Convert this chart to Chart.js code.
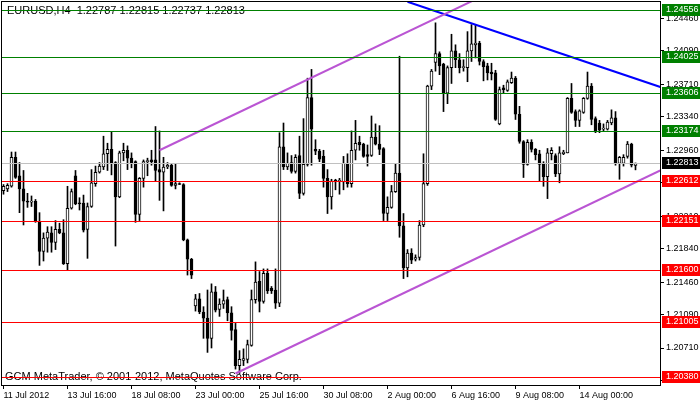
<!DOCTYPE html>
<html lang="en">

<head>
    <meta charset="UTF-8">
    <title>EURUSD H4</title>
    <style>
        body {
            margin: 0;
            background-color: #ffffff;
        }

        #priceChart {
            display: block;
        }
    </style>
</head>

<body>
    <canvas id="priceChart" width="700" height="402"></canvas>

    <script src="https://cdn.jsdelivr.net/npm/chart.js"></script>
    <script>
// EURUSD H4 bars, oldest first (bar 0 = 11 Jul 2012)
const opens = [
    1.2250, 1.2252, 1.2255, 1.2288, 1.2267, 1.2252, 1.2238, 1.2237, 1.2238, 1.2214,
    1.2181, 1.2196, 1.2202, 1.2191, 1.2206, 1.2202, 1.2167, 1.2230, 1.2267, 1.2236,
    1.2236, 1.2206, 1.2232, 1.2258, 1.2271, 1.2277, 1.2292, 1.2297, 1.2282, 1.2243,
    1.2293, 1.2296, 1.2287, 1.2283, 1.2223, 1.2264, 1.2283, 1.2285, 1.2285, 1.2274,
    1.2271, 1.2277, 1.2279, 1.2256, 1.2258, 1.2257, 1.2194, 1.2172, 1.2119, 1.2127,
    1.2112, 1.2105, 1.2082, 1.2135, 1.2115, 1.2121, 1.2126, 1.2111, 1.2092, 1.2051,
    1.2057, 1.2058, 1.2074, 1.2126, 1.2147, 1.2124, 1.2156, 1.2139, 1.2137, 1.2122,
    1.2300, 1.2277, 1.2282, 1.2272, 1.2290, 1.2247, 1.2280, 1.2356, 1.2297, 1.2295,
    1.2289, 1.2264, 1.2243, 1.2262, 1.2261, 1.2260, 1.2281, 1.2258, 1.2296, 1.2305,
    1.2303, 1.2291, 1.2290, 1.2311, 1.2303, 1.2298, 1.2224, 1.2231, 1.2249, 1.2270,
    1.2210, 1.2162, 1.2179, 1.2172, 1.2174, 1.2211, 1.2258, 1.2369, 1.2396, 1.2406,
    1.2394, 1.2361, 1.2390, 1.2409, 1.2399, 1.2390, 1.2390, 1.2409, 1.2416, 1.2418,
    1.2397, 1.2392, 1.2385, 1.2384, 1.2326, 1.2367, 1.2364, 1.2373, 1.2378, 1.2337,
    1.2306, 1.2280, 1.2305, 1.2297, 1.2292, 1.2280, 1.2266, 1.2292, 1.2290, 1.2269,
    1.2292, 1.2293, 1.2355, 1.2340, 1.2330, 1.2339, 1.2355, 1.2369, 1.2332, 1.2327,
    1.2320, 1.2320, 1.2327, 1.2333, 1.2281, 1.2281, 1.2289, 1.2303, 1.22787
];
const highs = [
    1.2257, 1.2258, 1.2294, 1.2294, 1.2282, 1.2273, 1.2247, 1.2244, 1.2240, 1.2225,
    1.2202, 1.2209, 1.2209, 1.2216, 1.2213, 1.2217, 1.2255, 1.2252, 1.2273, 1.2242,
    1.2245, 1.2236, 1.2274, 1.2278, 1.2282, 1.2312, 1.2304, 1.2317, 1.2283, 1.2295,
    1.2304, 1.2301, 1.2293, 1.2284, 1.2265, 1.2285, 1.2287, 1.2296, 1.2323, 1.2318,
    1.2288, 1.2282, 1.2280, 1.2281, 1.2259, 1.2258, 1.2195, 1.2173, 1.2132, 1.2133,
    1.2118, 1.2137, 1.2144, 1.2141, 1.2127, 1.2137, 1.2129, 1.2118, 1.2099, 1.2068,
    1.2070, 1.2080, 1.2137, 1.2169, 1.2158, 1.2161, 1.2161, 1.2141, 1.2161, 1.2316,
    1.2327, 1.2293, 1.2290, 1.2291, 1.2312, 1.2332, 1.2378, 1.2388, 1.2308, 1.2297,
    1.2296, 1.2274, 1.2263, 1.2263, 1.2264, 1.2289, 1.2292, 1.2318, 1.2330, 1.2312,
    1.2304, 1.2302, 1.2335, 1.2326, 1.2324, 1.2299, 1.2243, 1.2256, 1.2280, 1.2403,
    1.2224, 1.2183, 1.2184, 1.2177, 1.2216, 1.2292, 1.2370, 1.2388, 1.2441, 1.2408,
    1.2395, 1.2392, 1.2428, 1.2416, 1.2406, 1.2399, 1.2431, 1.2439, 1.2439, 1.2420,
    1.2399, 1.2395, 1.2395, 1.2387, 1.2368, 1.2370, 1.2376, 1.2385, 1.2380, 1.2346,
    1.2307, 1.2308, 1.2308, 1.2298, 1.2296, 1.2283, 1.2298, 1.2299, 1.2292, 1.2300,
    1.2296, 1.2356, 1.2372, 1.2342, 1.2342, 1.2356, 1.2385, 1.2372, 1.2334, 1.2330,
    1.2326, 1.2330, 1.2342, 1.2340, 1.2289, 1.2291, 1.2306, 1.2304, 1.22815
];
const lows = [
    1.2246, 1.2249, 1.2254, 1.2264, 1.2225, 1.2211, 1.2231, 1.2232, 1.2214, 1.2165,
    1.2170, 1.2180, 1.2180, 1.2183, 1.2201, 1.2166, 1.2160, 1.2229, 1.2234, 1.2228,
    1.2203, 1.2173, 1.2231, 1.2255, 1.2270, 1.2274, 1.2273, 1.2268, 1.2187, 1.2242,
    1.2284, 1.2274, 1.2276, 1.2214, 1.2216, 1.2254, 1.2267, 1.2279, 1.2261, 1.2239,
    1.2227, 1.2275, 1.2255, 1.2252, 1.2257, 1.2193, 1.2154, 1.2150, 1.2113, 1.2110,
    1.2082, 1.2066, 1.2071, 1.2112, 1.2107, 1.2116, 1.2102, 1.2080, 1.2047, 1.2042,
    1.2051, 1.2054, 1.2073, 1.2122, 1.2112, 1.2122, 1.2133, 1.2133, 1.2116, 1.2118,
    1.2274, 1.2274, 1.2270, 1.2270, 1.2241, 1.2245, 1.2278, 1.2279, 1.2291, 1.2283,
    1.2254, 1.2224, 1.2229, 1.2251, 1.2246, 1.2251, 1.2254, 1.2254, 1.2285, 1.2296,
    1.2288, 1.2278, 1.2289, 1.2302, 1.2291, 1.2216, 1.2216, 1.2230, 1.2248, 1.2197,
    1.2150, 1.2152, 1.2167, 1.2170, 1.2171, 1.2209, 1.2256, 1.2365, 1.2386, 1.2382,
    1.2340, 1.2349, 1.2372, 1.2390, 1.2384, 1.2386, 1.2374, 1.2397, 1.2401, 1.2393,
    1.2375, 1.2376, 1.2376, 1.2330, 1.2325, 1.2361, 1.2363, 1.2372, 1.2331, 1.2304,
    1.2265, 1.2279, 1.2294, 1.2285, 1.2261, 1.2255, 1.2241, 1.2285, 1.2266, 1.2259,
    1.2291, 1.2293, 1.2338, 1.2323, 1.2323, 1.2338, 1.2354, 1.2325, 1.2316, 1.2316,
    1.2318, 1.2319, 1.2325, 1.2279, 1.2263, 1.2278, 1.2287, 1.2277, 1.22737
];
const closes = [
    1.2255, 1.2256, 1.2288, 1.2265, 1.2252, 1.2238, 1.2237, 1.2238, 1.2215, 1.2181,
    1.2196, 1.2203, 1.2191, 1.2206, 1.2202, 1.2167, 1.2230, 1.2249, 1.2235, 1.2235,
    1.2205, 1.2232, 1.2259, 1.2271, 1.2278, 1.2292, 1.2297, 1.2282, 1.2243, 1.2293,
    1.2296, 1.2287, 1.2282, 1.2223, 1.2264, 1.2283, 1.2284, 1.2283, 1.2273, 1.2271,
    1.2277, 1.2279, 1.2256, 1.2258, 1.2257, 1.2194, 1.2172, 1.2154, 1.2127, 1.2112,
    1.2105, 1.2082, 1.2135, 1.2114, 1.2121, 1.2125, 1.2111, 1.2091, 1.2051, 1.2058,
    1.2059, 1.2075, 1.2126, 1.2146, 1.2124, 1.2156, 1.2136, 1.2136, 1.2122, 1.2300,
    1.2277, 1.2281, 1.2272, 1.2288, 1.2247, 1.2280, 1.2356, 1.2320, 1.2295, 1.2286,
    1.2264, 1.2243, 1.2261, 1.2260, 1.2262, 1.2281, 1.2258, 1.2296, 1.2304, 1.2302,
    1.2289, 1.2289, 1.2311, 1.2303, 1.2297, 1.2224, 1.2231, 1.2249, 1.2270, 1.2210,
    1.2162, 1.2179, 1.2171, 1.2174, 1.2211, 1.2258, 1.2369, 1.2386, 1.2406, 1.2392,
    1.2361, 1.2390, 1.2409, 1.2399, 1.2390, 1.2391, 1.2409, 1.2417, 1.2418, 1.2397,
    1.2391, 1.2384, 1.2383, 1.2331, 1.2365, 1.2365, 1.2374, 1.2378, 1.2337, 1.2306,
    1.2280, 1.2305, 1.2297, 1.2291, 1.2280, 1.2266, 1.2293, 1.2296, 1.2269, 1.2293,
    1.2294, 1.2355, 1.2339, 1.2330, 1.2341, 1.2355, 1.2369, 1.2331, 1.2317, 1.2319,
    1.2321, 1.2328, 1.2333, 1.2282, 1.2288, 1.2288, 1.2303, 1.2279, 1.22813
];

const dateLabels = ['11 Jul 2012', '13 Jul 16:00', '18 Jul 08:00', '23 Jul 00:00', '25 Jul 16:00',
    '30 Jul 08:00', '2 Aug 00:00', '6 Aug 16:00', '9 Aug 08:00', '14 Aug 00:00'];
const dateLabelBars = [0, 16, 32, 48, 64, 80, 96, 112, 128, 144];

const priceTicks = [1.2446, 1.2409, 1.2371, 1.2334, 1.2296, 1.2259, 1.2221, 1.2184, 1.2146, 1.2109, 1.2071, 1.2034];

// horizontal levels
const resistanceLevels = [1.24556, 1.24025, 1.23606, 1.23174];
const supportLevels = [1.22612, 1.22151, 1.21600, 1.21005, 1.20380];
const bidPrice = 1.22813;

// trend lines as [bar, price] anchors
const channelUpper = [[39, 1.2296], [120, 1.2472]];
const channelLower = [[58, 1.2042], [164.2, 1.2273]];
const downTrend = [[101, 1.2465], [164.2, 1.2368]];

const symbolTitle = 'EURUSD,H4';
const copyrightText = 'GCM MetaTrader, \u00a9 2001-2012, MetaQuotes Software Corp.';

const FAMILY = '"Liberation Sans", Arial, sans-serif';
const TEXT_FONT = '11px ' + FAMILY;
const TAG_FONT = '9px ' + FAMILY;

Chart.defaults.font.family = FAMILY;
Chart.defaults.font.size = 9;
Chart.defaults.color = '#000000';

const bodies = opens.map((o, i) => ({ x: i, y: [o, closes[i]] }));
const wicks = lows.map((l, i) => ({ x: i, y: [l, highs[i]] }));
const bodyColors = opens.map((o, i) => closes[i] >= o ? '#ffffff' : '#000000');
const toPoints = anchors => anchors.map(a => ({ x: a[0], y: a[1] }));

const terminalOverlay = {
    id: 'terminalOverlay',
    beforeDatasetsDraw(chart) {
        const { ctx, chartArea } = chart;
        const last = opens.length - 1;
        const ohlc = [opens[last], highs[last], lows[last], closes[last]].map(v => v.toFixed(5)).join(' ');
        ctx.save();
        ctx.font = TEXT_FONT;
        ctx.fillStyle = '#000000';
        ctx.textBaseline = 'middle';
        ctx.fillText(symbolTitle + '  ' + ohlc, chartArea.left + 5, chartArea.top + 9);
        ctx.fillText(copyrightText, chartArea.left + 3, chartArea.bottom - 8);
        ctx.restore();
    },
    afterDatasetsDraw(chart) {
        const { ctx, chartArea } = chart;
        const yScale = chart.scales.y;
        const hline = (price, color) => {
            const y = Math.round(yScale.getPixelForValue(price)) + 0.5;
            ctx.strokeStyle = color;
            ctx.beginPath();
            ctx.moveTo(chartArea.left, y);
            ctx.lineTo(chartArea.right, y);
            ctx.stroke();
        };
        ctx.save();
        ctx.lineWidth = 1;
        hline(bidPrice, '#c0c0c0');
        resistanceLevels.forEach(p => hline(p, '#008000'));
        supportLevels.forEach(p => hline(p, '#ff0000'));
        ctx.restore();
    },
    afterDraw(chart) {
        const { ctx, chartArea } = chart;
        const yScale = chart.scales.y;
        const tag = (price, fill) => {
            const y = Math.round(yScale.getPixelForValue(price));
            ctx.fillStyle = fill;
            ctx.fillRect(chartArea.right + 2, y - 6, 38, 12);
            ctx.fillStyle = '#ffffff';
            ctx.fillText(price.toFixed(5), chartArea.right + 6, y);
        };
        ctx.save();
        ctx.font = TAG_FONT;
        ctx.textBaseline = 'middle';
        resistanceLevels.forEach(p => tag(p, '#008000'));
        supportLevels.forEach(p => tag(p, '#ff0000'));
        tag(bidPrice, '#000000');

        // chart frame
        ctx.strokeStyle = '#000000';
        ctx.lineWidth = 1;
        ctx.strokeRect(chartArea.left - 0.5, chartArea.top - 0.5,
            chartArea.right - chartArea.left + 1, chartArea.bottom - chartArea.top + 1);
        ctx.restore();
    }
};

new Chart(document.getElementById('priceChart'), {
    type: 'bar',
    data: {
        datasets: [
            { type: 'line', data: toPoints(channelUpper), borderColor: '#ba55d3', borderWidth: 2, pointRadius: 0, order: 0 },
            { type: 'line', data: toPoints(channelLower), borderColor: '#ba55d3', borderWidth: 2, pointRadius: 0, order: 0 },
            { type: 'line', data: toPoints(downTrend), borderColor: '#0000ff', borderWidth: 2, pointRadius: 0, order: 0 },
            {
                label: 'body',
                data: bodies,
                backgroundColor: bodyColors,
                borderColor: '#000000',
                borderWidth: 1,
                borderSkipped: false,
                barThickness: 3,
                minBarLength: 1,
                grouped: false,
                order: 1
            },
            {
                label: 'wick',
                data: wicks,
                backgroundColor: '#000000',
                borderWidth: 0,
                barThickness: 1,
                grouped: false,
                order: 2
            }
        ]
    },
    options: {
        responsive: false,
        animation: false,
        layout: { padding: { left: 2, top: 2, right: 0, bottom: 0 } },
        plugins: {
            legend: { display: false },
            tooltip: { enabled: false }
        },
        scales: {
            x: {
                type: 'linear',
                min: -0.375,
                max: 164.125,
                offset: false,
                border: { display: false },
                grid: { display: true, offset: false, drawOnChartArea: false, drawTicks: true, tickLength: 4, color: '#000000' },
                ticks: {
                    autoSkip: false,
                    maxRotation: 0,
                    align: 'start',
                    padding: 1,
                    callback: value => dateLabels[dateLabelBars.indexOf(value)]
                },
                afterBuildTicks: scale => { scale.ticks = dateLabelBars.map(v => ({ value: v })); },
                afterFit: scale => {
                    scale.height = 17;
                    scale.paddingLeft = 0;
                    scale.paddingRight = 0;
                }
            },
            y: {
                position: 'right',
                min: 1.20289,
                max: 1.24647,
                border: { display: false },
                grid: { display: true, drawOnChartArea: false, drawTicks: true, tickLength: 4, color: '#000000' },
                ticks: {
                    autoSkip: false,
                    padding: 2,
                    callback: value => value.toFixed(5)
                },
                afterBuildTicks: scale => { scale.ticks = priceTicks.map(v => ({ value: v })); },
                afterFit: scale => {
                    scale.width = 40;
                    // no extra room for half tick labels at the ends
                    scale.paddingTop = 0;
                    scale.paddingBottom = 0;
                }
            }
        }
    },
    plugins: [terminalOverlay]
});
    </script>
</body>

</html>
